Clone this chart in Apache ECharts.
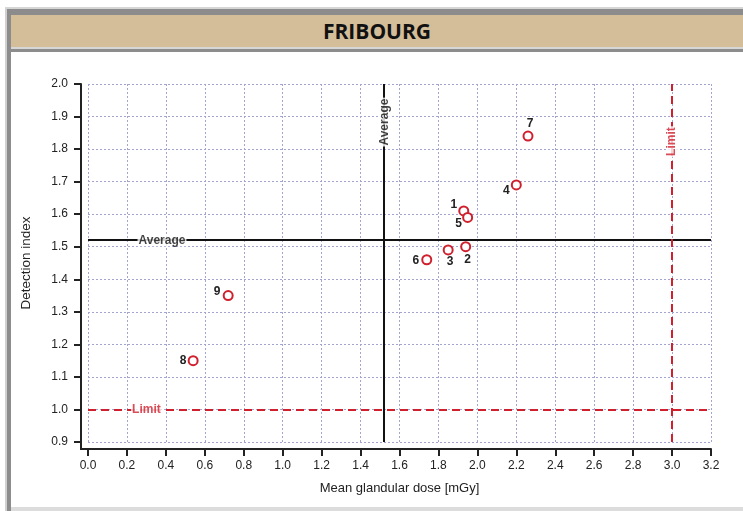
<!DOCTYPE html>
<html>
<head>
<meta charset="utf-8">
<script src="https://cdn.jsdelivr.net/npm/echarts@6/dist/echarts.min.js"></script>
<style>
  html, body { margin: 0; padding: 0; background: #fff; width: 743px; height: 511px; overflow: hidden; }
  .f { position: absolute; }
  #chart { position: absolute; left: 0; top: 0; width: 743px; height: 511px; }
  #title { position: absolute; left: 11px; top: 15px; width: 732px; height: 32px; background: #d4be99;
           font-family: "Open Sans", "Liberation Sans", sans-serif; font-weight: 700; font-size: 21px;
           color: #111; text-align: center; line-height: 32px; }
</style>
</head>
<body>
<div class="f" style="left:5px;top:7px;width:738px;height:2px;background:#d6d6d6"></div>
<div class="f" style="left:5px;top:9px;width:738px;height:6px;background:#8c8c8c"></div>
<div class="f" style="left:5px;top:9px;width:2px;height:502px;background:#d0d0d0"></div>
<div class="f" style="left:7px;top:9px;width:4px;height:502px;background:#8c8c8c"></div>
<div id="title">FRIBOURG</div>
<div class="f" style="left:11px;top:47px;width:732px;height:2px;background:#d6d6d6"></div>
<div class="f" style="left:11px;top:49px;width:732px;height:3px;background:#8c8c8c"></div>
<div class="f" style="left:11px;top:507px;width:732px;height:4px;background:#dcdcdc"></div>
<div id="chart"></div>
<script>
// ---- data ----
const pointIds = ['1', '2', '3', '4', '5', '6', '7', '8', '9'];
const doseValues = [1.93, 1.94, 1.85, 2.20, 1.95, 1.74, 2.26, 0.54, 0.72];
const detectionValues = [1.61, 1.50, 1.49, 1.69, 1.59, 1.46, 1.84, 1.15, 1.35];
const averageDose = 1.525;
const averageDetection = 1.52;
const limitDose = 3.0;
const limitDetection = 1.0;
const xTicks = { min: 0, max: 3.2, step: 0.2 };
const yTicks = { min: 0.9, max: 2.0, step: 0.1 };

// ---- styles ----
const labelOffsets = {
  '1': [-10, -6], '2': [2, 13], '3': [2, 12], '4': [-10, 6], '5': [-9, 6],
  '6': [-11, 1], '7': [2, -12], '8': [-10, 0], '9': [-11, -4]
};
const RED = '#d0202e';
const FONT = '"Liberation Sans", Arial, sans-serif';

const pts = pointIds.map((id, i) => ({
  value: [doseValues[i], detectionValues[i]],
  name: id,
  label: { show: true, position: 'inside', offset: labelOffsets[id], formatter: id }
}));

const chart = echarts.init(document.getElementById('chart'), null, { renderer: 'canvas' });
const axisCommon = {
  axisLine: { show: true, onZero: false, lineStyle: { color: '#222', width: 2 } },
  axisTick: { show: true, length: 7, lineStyle: { color: '#222', width: 2 } },
  splitLine: { show: true, lineStyle: { color: '#a4a4d0', width: 1, type: [2, 2] } },
  nameLocation: 'middle',
  nameTextStyle: { fontFamily: FONT, color: '#222' }
};
chart.setOption({
  animation: false,
  backgroundColor: 'transparent',
  textStyle: { fontFamily: FONT },
  grid: { left: 88, right: 32, top: 84, bottom: 69 },
  xAxis: Object.assign({}, axisCommon, {
    type: 'value', min: xTicks.min, max: xTicks.max, interval: xTicks.step, offset: 7,
    name: 'Mean glandular dose [mGy]', nameGap: 33,
    nameTextStyle: { fontFamily: FONT, color: '#222', fontSize: 13 },
    axisLabel: { fontFamily: FONT, fontSize: 12, color: '#222', margin: 11, formatter: v => v.toFixed(1) }
  }),
  yAxis: Object.assign({}, axisCommon, {
    type: 'value', min: yTicks.min, max: yTicks.max, interval: yTicks.step, offset: 7,
    name: 'Detection index', nameGap: 48,
    nameTextStyle: { fontFamily: FONT, color: '#222', fontSize: 13.5 },
    axisLabel: { fontFamily: FONT, fontSize: 12, color: '#222', margin: 13, formatter: v => v.toFixed(1) }
  }),
  series: [
    {
      type: 'scatter', z: 3,
      symbol: 'circle', symbolSize: 9,
      itemStyle: { color: '#fff', borderColor: RED, borderWidth: 2, opacity: 1 },
      label: { fontFamily: FONT, fontWeight: 'bold', fontSize: 12, color: '#222' },
      data: pts,
      markLine: {
        silent: true, symbol: 'none', animation: false, z: 2,
        label: { show: false },
        data: [
          { yAxis: averageDetection, lineStyle: { color: '#111', width: 2, type: 'solid' } },
          { xAxis: averageDose, lineStyle: { color: '#111', width: 2, type: 'solid' } },
          { yAxis: limitDetection, lineStyle: { color: RED, width: 2, type: [8, 5] } },
          { xAxis: limitDose, lineStyle: { color: RED, width: 2, type: [8, 5] } }
        ]
      }
    },
    {
      type: 'scatter', z: 20, symbolSize: 0, silent: true,
      label: { show: true, position: 'inside', fontFamily: FONT, fontWeight: 'bold', fontSize: 12,
               backgroundColor: '#fff', padding: [0, 1] },
      data: [
        { value: [0.38, averageDetection], label: { formatter: 'Average', color: '#111' } },
        { value: [averageDose, 1.883], label: { formatter: 'Average', color: '#111', rotate: 90 } },
        { value: [0.30, limitDetection], label: { formatter: 'Limit', color: RED } },
        { value: [limitDose, 1.823], label: { formatter: 'Limit', color: RED, rotate: 90 } }
      ]
    }
  ]
});

// join the offset axes at the corner
const o = chart.convertToPixel({ gridIndex: 0 }, [xTicks.min, yTicks.min]);
chart.setOption({
  graphic: [{
    type: 'polyline', silent: true, z: 10,
    shape: { points: [[o[0] - 7, o[1]], [o[0] - 7, o[1] + 7], [o[0], o[1] + 7]] },
    style: { stroke: '#222', lineWidth: 2, fill: null }
  }]
});
</script>
</body>
</html>
